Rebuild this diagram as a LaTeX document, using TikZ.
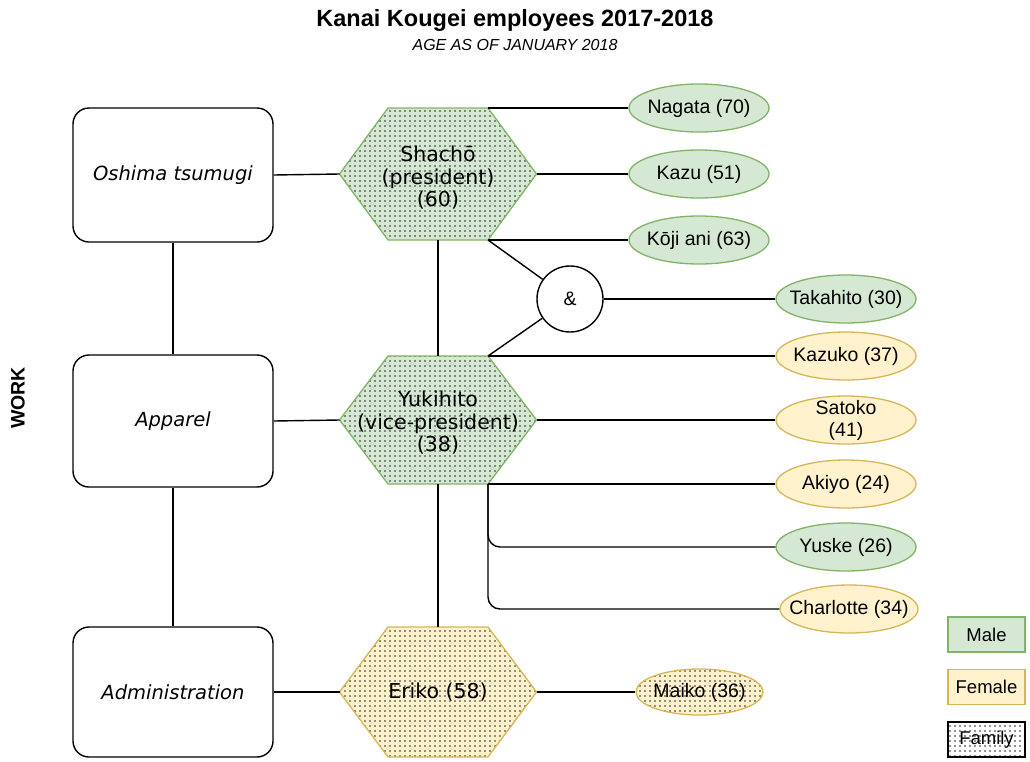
\documentclass[tikz,border=0pt]{standalone}
\usepackage{fontspec}
\setmainfont{Liberation Sans}
\newfontfamily\verdfont{DejaVu Sans}
\usetikzlibrary{shapes.geometric, patterns.meta}

\definecolor{maleFill}{HTML}{D5E8D4}
\definecolor{maleLine}{HTML}{82B366}
\definecolor{femFill}{HTML}{FFF2CC}
\definecolor{femLine}{HTML}{D6B656}

% hexagon outline with named corners: name, x, y, half height, style
\newcommand{\hexpath}[5]{%
  \path[#5]
    (#2-98.5,#3) coordinate (#1-w)
    -- (#2-50,#3-#4) coordinate (#1-nw)
    -- (#2+50,#3-#4) coordinate (#1-ne)
    -- (#2+98.5,#3) coordinate (#1-e)
    -- (#2+50,#3+#4) coordinate (#1-se)
    -- (#2-50,#3+#4) coordinate (#1-sw)
    -- cycle;
  \coordinate (#1-n) at (#2,#3-#4);
  \coordinate (#1-s) at (#2,#3+#4);
}

\begin{document}
\begin{tikzpicture}[x=1pt, y=-1pt]

  % Define styles
  \tikzset{
    link/.style={draw=black, line width=1.4pt},
    workbox/.style={draw=black, line width=1.4pt, rounded corners=16pt,
      minimum width=200pt, inner sep=0pt,
      font=\verdfont\itshape\fontsize{19.5}{23}\selectfont},
    family/.style args={#1/#2}{draw=#2, line width=1.3pt,
      preaction={fill=#1},
      pattern={Dots[distance=5pt, radius=0.85pt]}, pattern color=black!85},
    hexlabel/.style={align=center, inner sep=0pt,
      font=\verdfont\fontsize{20.5}{22.5}\selectfont},
    person/.style args={#1/#2}{ellipse, draw=#2, fill=#1, line width=1.3pt,
      minimum width=140pt, minimum height=48pt, inner xsep=-15pt,
      inner ysep=-8pt, align=center, font=\fontsize{19.5}{22}\selectfont},
    male/.style={person=maleFill/maleLine},
    female/.style={person=femFill/femLine},
    legend/.style={draw=#1, line width=1.3pt, minimum width=77pt,
      minimum height=35pt, inner sep=0pt, font=\fontsize{18.5}{21}\selectfont}
  }

  \useasboundingbox (0,0) rectangle (1030,761);

  %% Titles
  \node[font=\bfseries\fontsize{23.5}{27}\selectfont] (title) at (515,20)
    {Kanai Kougei employees 2017-2018};
  \node[font=\itshape\fontsize{16}{19}\selectfont] (subtitle) at (515,45)
    {AGE AS OF JANUARY 2018};
  \node[font=\bfseries\fontsize{19.5}{22}\selectfont, rotate=90] (work) at (18,398) {WORK};

  %% Work areas
  \node[workbox, minimum height=134pt] (oshima) at (173,175) {Oshima tsumugi};
  \node[workbox, minimum height=132pt] (apparel) at (173,421) {Apparel};
  \node[workbox, minimum height=130pt] (admin) at (173,692) {Administration};

  %% Family heads
  \hexpath{shacho}{438}{174}{66}{family=maleFill/maleLine}
  \node[hexlabel] (shacho) at (438,178) {Shachō\\(president)\\(60)};

  \hexpath{yuki}{438}{420}{64}{family=maleFill/maleLine}
  \node[hexlabel] (yuki) at (438,423) {Yukihito\\(vice-president)\\(38)};

  \hexpath{eriko}{438}{692}{65}{family=femFill/femLine}
  \node[hexlabel] (eriko) at (438,692) {Eriko (58)};

  %% Employees
  \node[male] (nagata) at (699,108) {Nagata (70)};
  \node[male] (kazu) at (699,174) {Kazu (51)};
  \node[male] (koji) at (699,240) {Kōji ani (63)};

  \node[circle, draw, line width=1.4pt, minimum size=66pt, inner sep=0pt,
    font=\fontsize{19.5}{22}\selectfont] (amp) at (570,299) {\&};

  \node[male] (takahito) at (846,299) {Takahito (30)};
  \node[female] (kazuko) at (846,356) {Kazuko (37)};
  \node[female] (satoko) at (846,420) {Satoko\\(41)};
  \node[female] (akiyo) at (846,484) {Akiyo (24)};
  \node[male] (yuske) at (846,547) {Yuske (26)};
  \node[female, minimum width=138pt] (charlotte) at (849,609) {Charlotte (34)};

  \node[ellipse, family=femFill/femLine, minimum width=127pt, minimum height=46pt,
    inner xsep=-15pt, inner ysep=-8pt, font=\fontsize{19.5}{22}\selectfont]
    (maiko) at (699.5,692) {Maiko (36)};

  %% Connectors
  \draw[link] (oshima.east) -- (shacho-w);
  \draw[link] (apparel.east) -- (yuki-w);
  \draw[link] (admin.east) -- (eriko-w);
  \draw[link] (oshima.south) -- (apparel.north);
  \draw[link] (apparel.south) -- (admin.north);
  \draw[link] (shacho-s) -- (yuki-n);
  \draw[link] (yuki-s) -- (eriko-n);

  \draw[link] (shacho-ne) -- (nagata.west);
  \draw[link] (shacho-e) -- (kazu.west);
  \draw[link] (shacho-se) -- (koji.west);
  \draw[link] (shacho-se) -- (amp);
  \draw[link] (yuki-ne) -- (amp);
  \draw[link] (amp.east) -- (takahito.west);

  \draw[link] (yuki-ne) -- (kazuko.west);
  \draw[link] (yuki-e) -- (satoko.west);
  \draw[link] (yuki-se) -- (akiyo.west);
  \draw[link, rounded corners=12pt] (yuki-se) |- (yuske.west);
  \draw[link, rounded corners=12pt] (yuki-se) |- (charlotte.west);

  \draw[link] (eriko-e) -- (maiko.west);

  %% Legend
  \node[legend=maleLine, fill=maleFill] (male) at (986.5,634.5) {Male};
  \node[legend=femLine, fill=femFill] (female) at (986.5,687) {Female};
  \node[legend=black, family=white/black, line width=1.6pt] (fam) at (986.5,739.5) {Family};

\end{tikzpicture}
\end{document}
